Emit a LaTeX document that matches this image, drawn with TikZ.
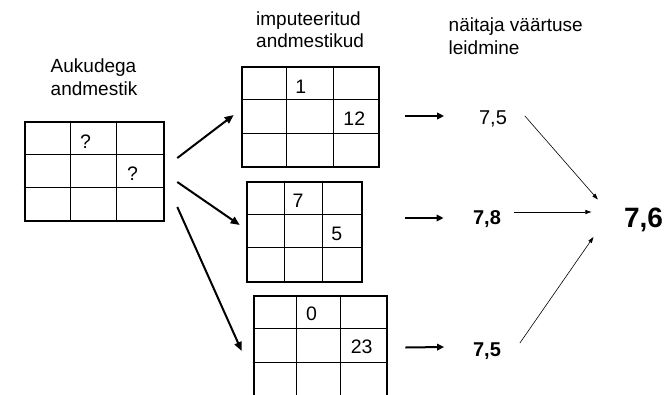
\documentclass[tikz,border=0pt]{standalone}
\usepackage{fontspec}
\setmainfont{Liberation Sans}
\usetikzlibrary{arrows.meta}
\begin{document}
\begin{tikzpicture}[x=1pt,y=-1pt,
  gridbox/.style={draw, line width=2.6pt, inner sep=0pt},
  inner/.style={line width=1pt},
  cell/.style={inner sep=0pt, text height=14pt, text depth=0pt, font=\fontsize{19.5}{22}\selectfont},
  heading/.style={align=left, inner sep=0pt, anchor=north west, font=\fontsize{19}{22.5}\selectfont},
  val/.style={inner sep=0pt, text height=14pt, text depth=0pt, font=\fontsize{20}{22}\selectfont},
  valbig/.style={inner sep=0pt, text height=20pt, text depth=0pt, font=\fontsize{28}{30}\selectfont\bfseries},
  bigarrow/.style={line width=2pt, -{Triangle[length=9pt,width=7.5pt]}},
  midarrow/.style={line width=2pt, -{Triangle[length=7pt,width=6.5pt]}},
  thinarrow/.style={line width=0.6pt, -{Triangle[length=6pt,width=4pt]}}]
\useasboundingbox (0,0) rectangle (671,394);
\clip (0,0) rectangle (671,394);

% grids
\node[gridbox, minimum width=139pt, minimum height=99pt] (g0) at (94.5,171.5) {};
\node[gridbox, minimum width=137pt, minimum height=100pt] (g1) at (310.5,117) {};
\node[gridbox, minimum width=115pt, minimum height=100pt] (g2) at (304.5,232) {};
\node[gridbox, minimum width=133pt, minimum height=102pt] (g3) at (320.5,347) {};

\foreach \g/\a/\b/\c/\d in {g0/46.5/93/33.5/66.5, g1/46/93/34/68, g2/39/77/34/67, g3/44/88/34/67.5} {
  \draw[inner] ([shift={(\a,0)}]\g.north west) -- ([shift={(\a,0)}]\g.south west);
  \draw[inner] ([shift={(\b,0)}]\g.north west) -- ([shift={(\b,0)}]\g.south west);
  \draw[inner] ([shift={(0,\c)}]\g.north west) -- ([shift={(0,\c)}]\g.north east);
  \draw[inner] ([shift={(0,\d)}]\g.north west) -- ([shift={(0,\d)}]\g.north east);
}

% cell texts
\node[cell] (q1) at (85.6,141) {?};
\node[cell] (q2) at (132.6,173) {?};
\node[cell] (c11) at (300.8,86) {1};
\node[cell] (c12) at (354.3,118) {12};
\node[cell] (c21) at (298,200) {7};
\node[cell] (c22) at (336.7,233) {5};
\node[cell] (c31) at (311.5,313) {0};
\node[cell] (c32) at (361.6,346.7) {23};

% headings
\node[heading] (h0) at (50.5,59) {Aukudega\\andmestik};
\node[heading] (h1) at (256,11.5) {imputeeritud\\andmestikud};
\node[heading] (h2) at (448.5,18) {näitaja väärtuse\\leidmine};

% values
\node[val] (v1) at (493,117) {7,5};
\node[val] (v2) at (487,217) {\textbf{7,8}};
\node[val] (v3) at (487,349) {\textbf{7,5}};
\node[valbig] (res) at (643.5,217) {7,6};

% arrows from the incomplete data set
\draw[bigarrow] ([shift={(12,-13.5)}]g0.east) -- ([shift={(-7,-2)}]g1.west);
\draw[bigarrow] ([shift={(12,10.5)}]g0.east) -- ([shift={(-6,-7)}]g2.west);
\draw[bigarrow] ([shift={(12,35.5)}]g0.east) -- ([shift={(-11,4)}]g3.west);

% arrows to values
\draw[midarrow] ([shift={(25,-1)}]g1.east) -- ([shift={(-34.8,-1)}]v1.west);
\draw[midarrow] ([shift={(42,-14)}]g2.east) -- ([shift={(-29.3,1)}]v2.west);
\draw[midarrow] ([shift={(17,0.5)}]g3.east) -- ([shift={(-28.8,-2)}]v3.west);

% arrows to result
\draw[thinarrow] ([shift={(17.8,-1)}]v1.east) -- ([shift={(-26,-17.5)}]res.west);
\draw[thinarrow] ([shift={(12.8,-5)}]v2.east) -- ([shift={(-32.5,-5)}]res.west);
\draw[thinarrow] ([shift={(18.8,-6)}]v3.east) -- ([shift={(-30.4,20)}]res.west);
\end{tikzpicture}
\end{document}
